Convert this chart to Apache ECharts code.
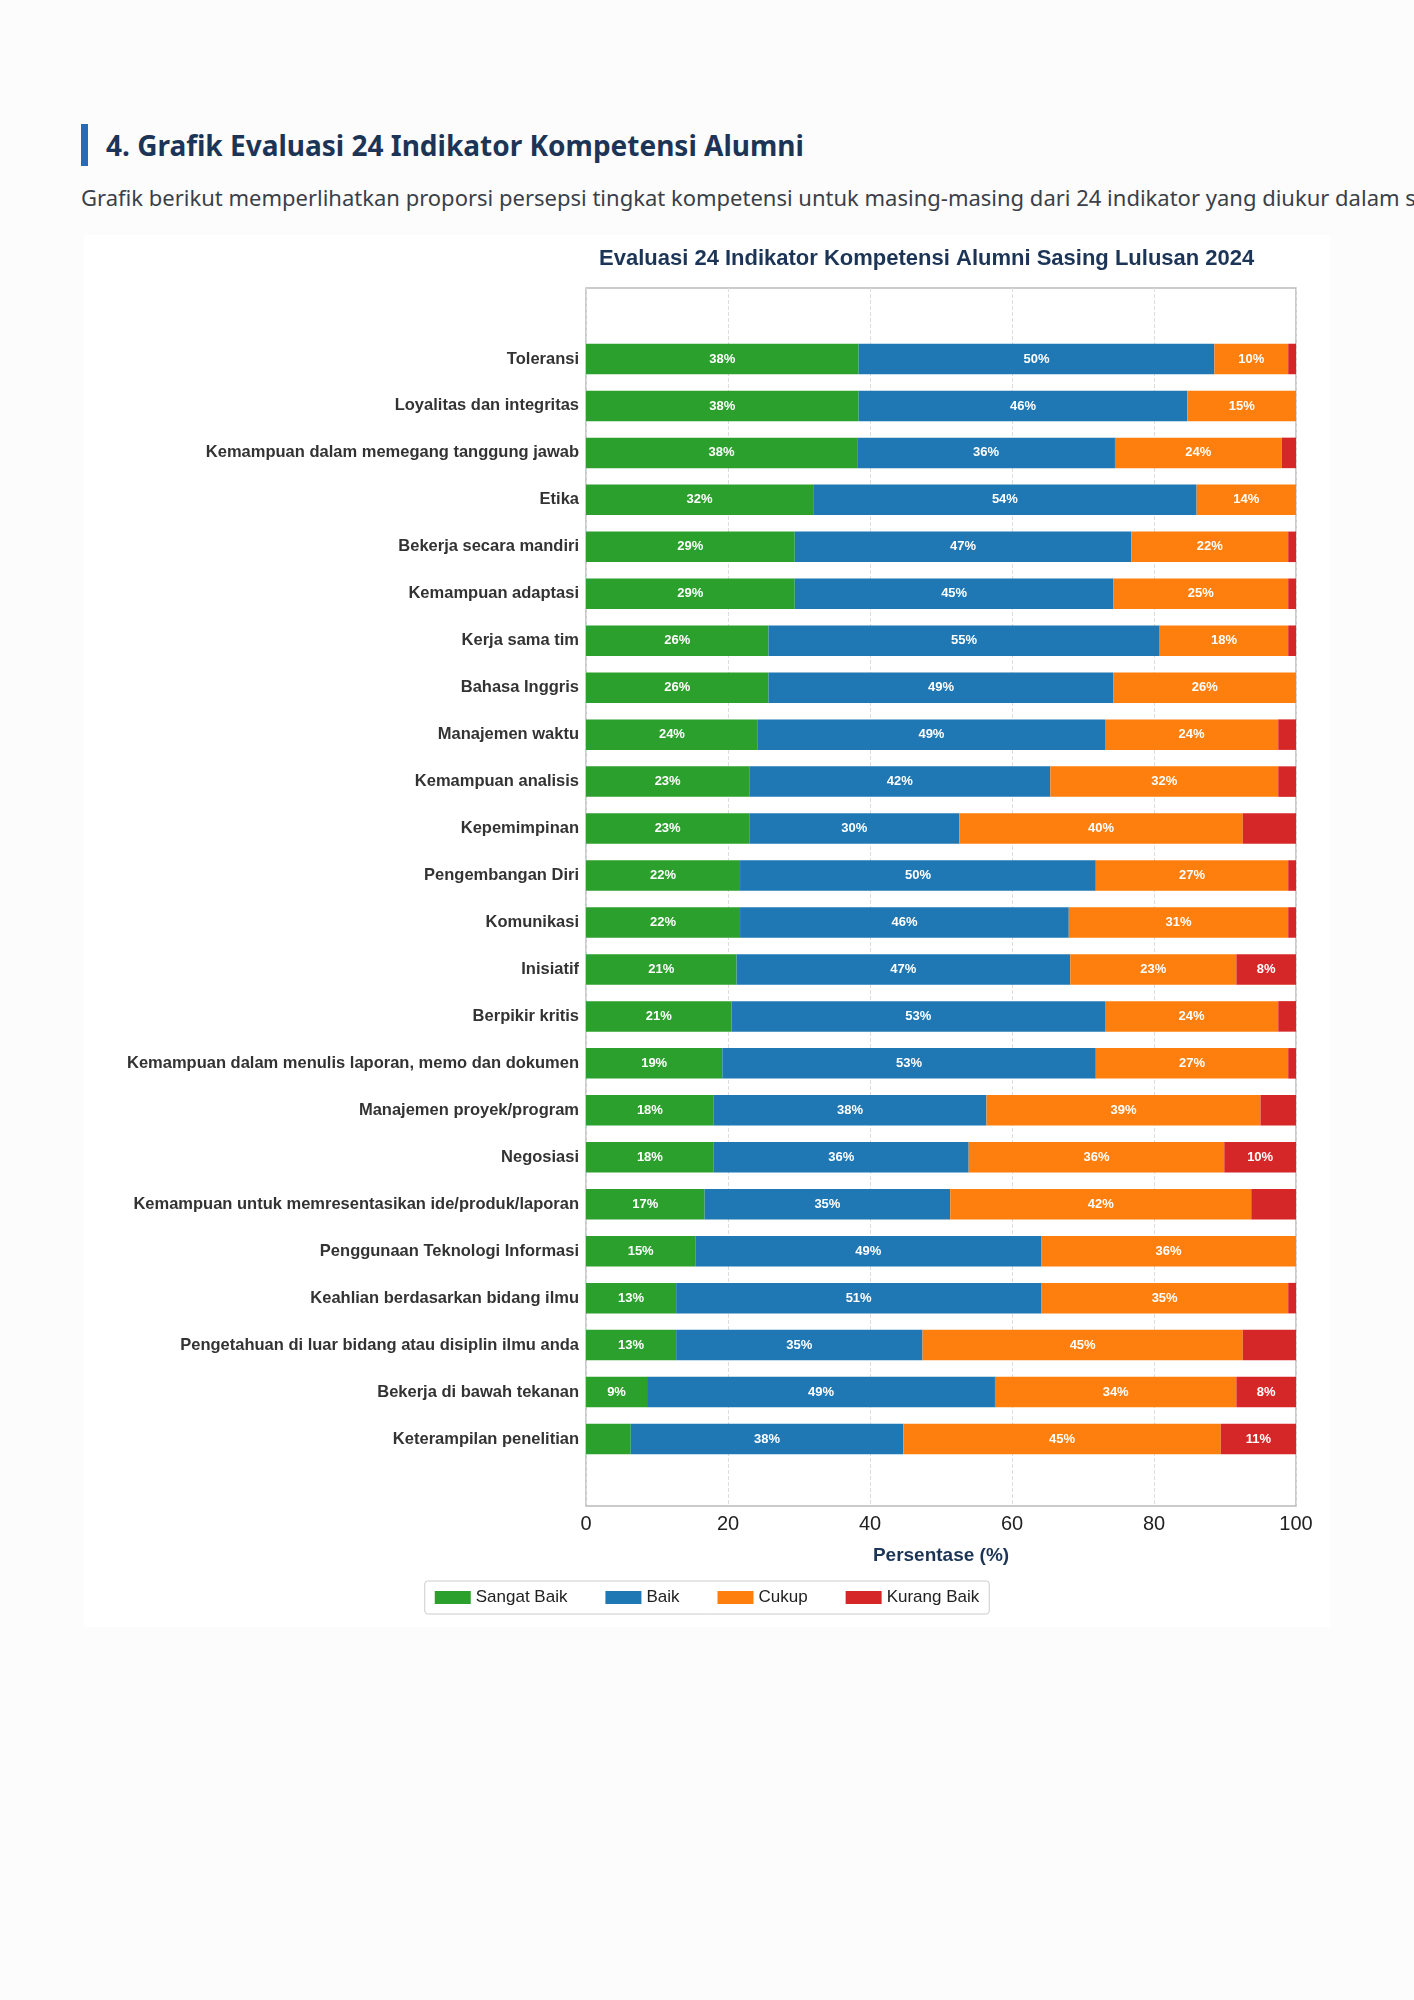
<!DOCTYPE html>
<html>
<head>
<meta charset="utf-8">
<script src="https://cdn.jsdelivr.net/npm/echarts@6/dist/echarts.min.js"></script>
<style>
body{margin:0;background:#fcfcfc;font-family:"Noto Sans",sans-serif;width:1414px;height:2000px;overflow:hidden;position:relative}
h2{position:absolute;left:81px;top:124px;margin:0;padding-left:18px;border-left:7px solid #2a6ab3;font-size:28px;line-height:42px;color:#1c3557;font-weight:700}
p{position:absolute;left:81px;top:182px;margin:0;font-size:22px;color:#3a3f48;white-space:nowrap}
#chart{position:absolute;left:84px;top:235px;width:1246px;height:1392px;background:#fff}
</style>
</head>
<body>
<h2>4. Grafik Evaluasi 24 Indikator Kompetensi Alumni</h2>
<p>Grafik berikut memperlihatkan proporsi persepsi tingkat kompetensi untuk masing-masing dari 24 indikator yang diukur dalam survei.</p>
<div id="chart"></div>
<script>
var categories = ['Toleransi','Loyalitas dan integritas','Kemampuan dalam memegang tanggung jawab','Etika','Bekerja secara mandiri','Kemampuan adaptasi','Kerja sama tim','Bahasa Inggris','Manajemen waktu','Kemampuan analisis','Kepemimpinan','Pengembangan Diri','Komunikasi','Inisiatif','Berpikir kritis','Kemampuan dalam menulis laporan, memo dan dokumen','Manajemen proyek/program','Negosiasi','Kemampuan untuk memresentasikan ide/produk/laporan','Penggunaan Teknologi Informasi','Keahlian berdasarkan bidang ilmu','Pengetahuan di luar bidang atau disiplin ilmu anda','Bekerja di bawah tekanan','Keterampilan penelitian'];
var sangatBaik = [38.4,38.4,38.2,32,29.4,29.4,25.7,25.7,24.2,23,23,21.7,21.7,21.2,20.5,19.2,18,18,16.7,15.4,12.7,12.7,8.6,6.3];
var baik = [50.1,46.3,36.3,54,47.4,44.9,55.1,48.6,48.9,42.4,29.6,50.1,46.3,47,52.6,52.6,38.4,35.9,34.6,48.7,51.4,34.7,49,38.4];
var cukup = [10.4,15.3,23.5,14,22.1,24.6,18.1,25.7,24.4,32.1,39.9,27.1,30.9,23.4,24.4,27.1,38.6,36,42.4,35.9,34.8,45.1,34,44.7];
var kurangBaik = [1.1,0,2,0,1.1,1.1,1.1,0,2.5,2.5,7.5,1.1,1.1,8.4,2.5,1.1,5,10.1,6.3,0,1.1,7.5,8.4,10.6];
var seriesNames = ['Sangat Baik','Baik','Cukup','Kurang Baik'];
var colors = ['#2ca02c','#1f77b4','#ff7f0e','#d62728'];

var chart = echarts.init(document.getElementById('chart'));
var lists = [sangatBaik, baik, cukup, kurangBaik];
var series = lists.map(function(d, i){
	return {
		name: seriesNames[i], type: 'bar', stack: 'total', barWidth: '65%',
		xAxisIndex: 0, yAxisIndex: 0,
		itemStyle: {color: colors[i]},
		label: {
			show: true, position: 'inside', color: '#fff', fontWeight: 'bold', fontSize: 13, fontFamily: 'Liberation Sans',
			formatter: function(p){ return p.value >= 8 ? Math.round(p.value) + '%' : ''; }
		},
		data: d
	};
});
var option = {
	color: colors,
	title: {text: 'Evaluasi 24 Indikator Kompetensi Alumni Sasing Lulusan 2024', left: 510, top: 8,
		textStyle: {fontSize: 22, fontWeight: 'bold', color: '#1c3557', fontFamily: 'Liberation Sans'}},
	legend: {
		data: seriesNames, left: 'center', top: 1346, x: 'center',
		orient: 'horizontal', itemWidth: 36, itemHeight: 13, itemGap: 38, icon: 'rect',
		borderColor: '#ccc', borderWidth: 1, borderRadius: 3, padding: [8, 10],
		textStyle: {fontSize: 17, color: '#222', fontFamily: 'Liberation Sans'}
	},
	grid: [
		{left: 502, right: 34, top: 100.5, height: 1127, containLabel: false},
		{left: 502, right: 34, top: 53, height: 1218, show: true, borderColor: '#bbb', borderWidth: 1.5, backgroundColor: 'transparent', z: 0}
	],
	xAxis: [
		{gridIndex: 0, type: 'value', min: 0, max: 100, show: false},
		{gridIndex: 1, type: 'value', min: 0, max: 100, interval: 20,
			name: 'Persentase (%)', nameLocation: 'middle', nameGap: 40,
			nameTextStyle: {fontSize: 19, fontWeight: 'bold', color: '#1c3557', fontFamily: 'Liberation Sans'},
			axisLine: {show: false}, axisTick: {show: false},
			axisLabel: {fontSize: 20, color: '#222', fontFamily: 'Liberation Sans', margin: 8},
			splitLine: {show: true, lineStyle: {type: 'dashed', color: '#ddd'}}}
	],
	yAxis: [
		{gridIndex: 0, type: 'category', inverse: true, data: categories,
			axisLine: {show: false}, axisTick: {show: false},
			axisLabel: {fontSize: 16.5, fontWeight: 'bold', color: '#333', fontFamily: 'Liberation Sans', margin: 7}},
		{gridIndex: 1, type: 'value', show: false}
	],
	series: series
};
chart.setOption(option);
</script>
</body>
</html>
